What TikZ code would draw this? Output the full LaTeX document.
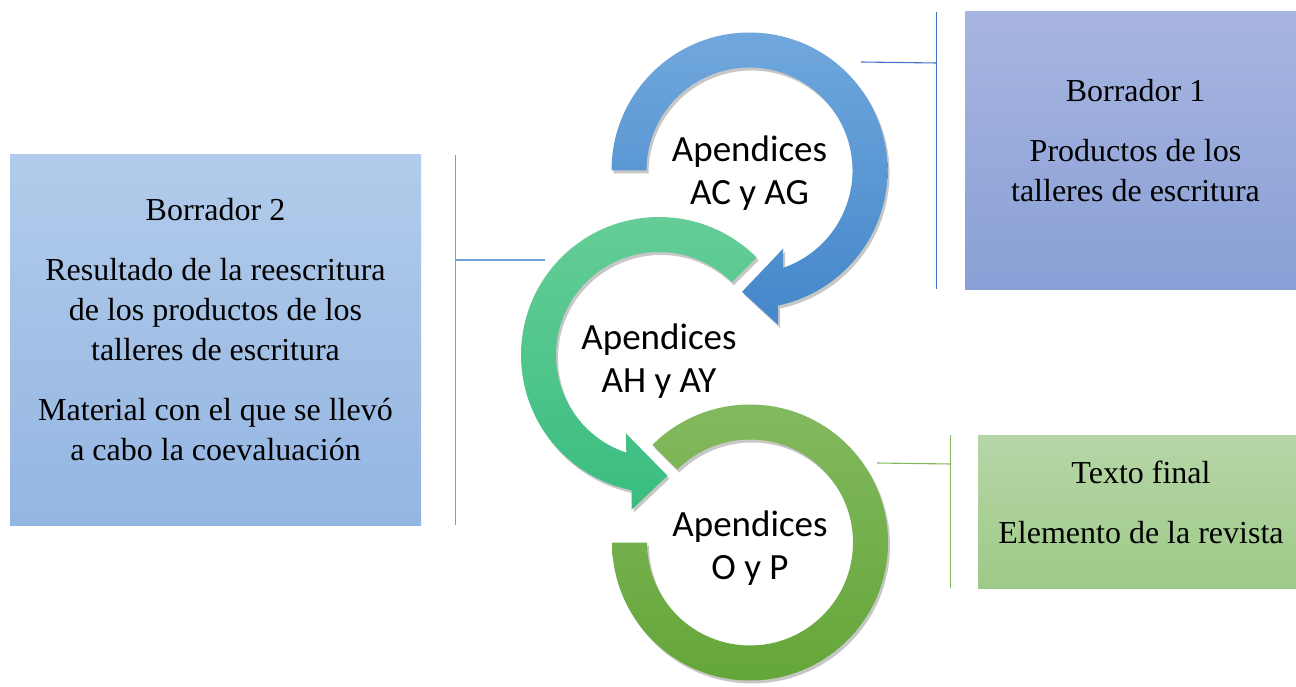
\documentclass[tikz,border=0pt]{standalone}
\usepackage{fontspec}
\setmainfont{Liberation Serif}
\newfontfamily\calib{Carlito}
\usetikzlibrary{calc,shadows}
\definecolor{bOneTop}{HTML}{A8B5E0}
\definecolor{bOneBot}{HTML}{89A0D6}
\definecolor{bTwoTop}{HTML}{B1CBEA}
\definecolor{bTwoBot}{HTML}{94B6E3}
\definecolor{tfTop}{HTML}{B6D6A7}
\definecolor{tfBot}{HTML}{9ECA88}
\definecolor{ringBlueTop}{HTML}{70A7DD}
\definecolor{ringBlueBot}{HTML}{4487CA}
\definecolor{ringTealTop}{HTML}{67CE98}
\definecolor{ringTealBot}{HTML}{3ABD80}
\definecolor{ringGreenTop}{HTML}{84BA60}
\definecolor{ringGreenBot}{HTML}{63A537}
\definecolor{lineBlue}{HTML}{4472C4}
\definecolor{lineLight}{HTML}{6FA0D8}
\definecolor{lineGreen}{HTML}{7FB860}
\begin{document}
\begin{tikzpicture}[x=1pt,y=1pt,
  panel/.style={inner sep=0pt, draw=none},
  boxtext/.style={align=center, font=\fontsize{32}{40}\selectfont, inner sep=0pt},
  ringtext/.style={align=center, font=\calib\fontsize{37}{43}\selectfont, inner sep=0pt},
  ringshade/.style={drop shadow={shadow xshift=2pt, shadow yshift=-3pt, opacity=0.22, fill=black}},
  bracket/.style={line width=1.1pt}]
\useasboundingbox (0,0) rectangle (1296,-687);

% panels
\node[panel, top color=bOneTop, bottom color=bOneBot, minimum width=331, minimum height=277] (b1) at (1130.5,-150.5) {};
\node[panel, top color=bTwoTop, bottom color=bTwoBot, minimum width=411, minimum height=370] (b2) at (215.5,-340) {};
\node[panel, top color=tfTop, bottom color=tfBot, minimum width=318, minimum height=153] (b3) at (1137,-511.5) {};

\node[boxtext] (t1) at ([xshift=5,yshift=10]b1.center) {Borrador 1\\[20pt]Productos de los\\talleres de escritura};
\node[boxtext] (t2) at ([yshift=10]b2.center) {Borrador 2\\[20pt]Resultado de la reescritura\\de los productos de los\\talleres de escritura\\[20pt]Material con el que se llevó\\a cabo la coevaluación};
\node[boxtext] (t3) at ([xshift=4,yshift=9]b3.center) {Texto final\\[20pt]Elemento de la revista};

% ring centres
\coordinate (c1) at (749.5,-170.5);
\coordinate (c2) at (659,-355);
\coordinate (c3) at (750,-542.5);

% green ring (no head)
\path[ringshade, top color=ringGreenTop, bottom color=ringGreenBot]
  ($(c3)+(135:138)$) arc[start angle=135, end angle=-180, radius=138]
  -- ($(c3)+(180:103)$) arc[start angle=-180, end angle=135, radius=103] -- cycle;

% teal ring with head
\path[ringshade, top color=ringTealTop, bottom color=ringTealBot]
  ($(c2)+(45:138)$) arc[start angle=45, end angle=258.5, radius=138]
  -- ($(c2)+(260:157)$) -- ($(c2)+(274:121)$) -- ($(c2)+(247:85)$)
  -- ($(c2)+(251.5:103)$) arc[start angle=251.5, end angle=45, radius=103] -- cycle;

% blue ring with head
\path[ringshade, top color=ringBlueTop, bottom color=ringBlueBot]
  ($(c1)+(180:138)$) arc[start angle=180, end angle=-78, radius=138]
  -- ($(c1)+(-79.5:157)$) -- ($(c1)+(-93.5:121.5)$) -- ($(c1)+(-66.6:85)$)
  -- ($(c1)+(-71:103)$) arc[start angle=-71, end angle=180, radius=103] -- cycle;

\node[ringtext] (r1) at ([yshift=-3]c1) {Apendices\\AC y AG};
\node[ringtext] (r2) at ([yshift=-6]c2) {Apendices\\AH y AY};
\node[ringtext] (r3) at ([yshift=-6]c3) {Apendices\\O y P};

% brackets
\coordinate (k1a) at ([xshift=-28]b1.north west);
\coordinate (k1b) at ([xshift=-28]b1.south west);
\coordinate (k1j) at (937,-63);
\coordinate (k1e) at (861,-62);
\draw[bracket, lineBlue] (k1a) -- (k1b);
\draw[bracket, lineBlue] (k1e) -- (k1j);

\coordinate (k2a) at ([xshift=34]b2.north east);
\coordinate (k2b) at ([xshift=34]b2.south east);
\coordinate (k2j) at (455,-260);
\coordinate (k2e) at (545,-260);
\draw[bracket, lineLight] (k2a) -- (k2b);
\draw[bracket, lineLight] (k2e) -- (k2j);

\coordinate (k3a) at ([xshift=-27]b3.north west);
\coordinate (k3b) at ([xshift=-27]b3.south west);
\coordinate (k3j) at (951,-464);
\coordinate (k3e) at (877,-463);
\draw[bracket, lineGreen] (k3a) -- (k3b);
\draw[bracket, lineGreen] (k3e) -- (k3j);
\end{tikzpicture}
\end{document}
